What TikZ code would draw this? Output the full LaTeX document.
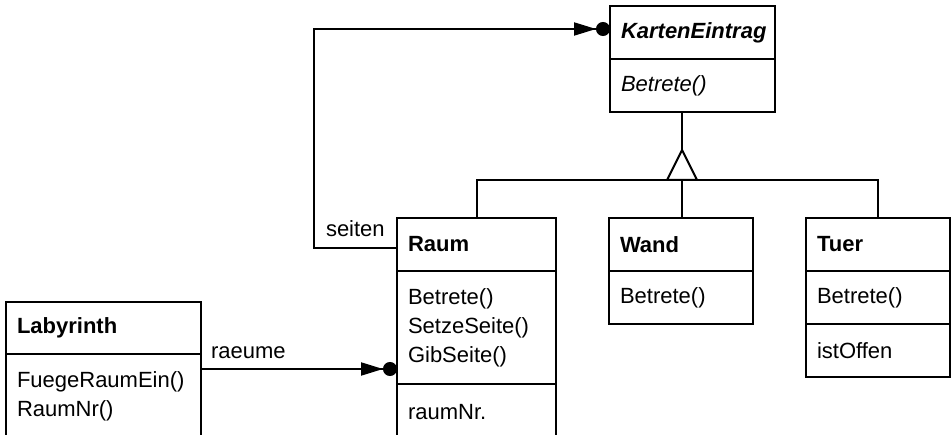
\documentclass[tikz,border=0pt]{standalone}
\usepackage{fontspec}
\setmainfont{Liberation Sans}
\usetikzlibrary{positioning,arrows.meta}
\newcommand\umlfont{\fontsize{22}{29}\selectfont\hyphenpenalty=10000 }

\begin{document}
\begin{tikzpicture}[x=1pt,y=-1pt]
		\tikzstyle{cls}=[draw, line width=2pt, inner xsep=11pt, inner ysep=0pt, outer sep=0pt, align=left, font=\umlfont, minimum height=53pt]
		\tikzstyle{connect}=[line width=2pt, -{Triangle[length=22pt,width=13pt]Circle[length=14pt]}]
		\tikzstyle{thickline}=[line width=2pt]
		\tikzstyle{role}=[font=\umlfont, inner sep=0pt, anchor=base west]
		\useasboundingbox (0,0) rectangle (952,435);
		
		% abstract class
		\node[cls, anchor=north west, text width=143pt] (karte) at (610,6) {\textbf{\textit{KartenEintrag}}};
		\node[cls, text width=143pt, below=0pt of karte] (karteops) {\textit{Betrete()}};
		
		% subclasses
		\node[cls, anchor=north west, text width=137pt] (raum) at (397,218) {\textbf{Raum}};
		\node[cls, text width=137pt, minimum height=113pt, below=0pt of raum] (raumops) {Betrete()\\SetzeSeite()\\GibSeite()};
		\node[cls, text width=137pt, minimum height=56pt, below=0pt of raumops] (raumattr) {raumNr.};
		
		\node[cls, anchor=north west, text width=122pt] (wand) at (609,218) {\textbf{Wand}};
		\node[cls, text width=122pt, below=0pt of wand] (wandops) {Betrete()};
		
		\node[cls, anchor=north west, text width=122pt] (tuer) at (806,218) {\textbf{Tuer}};
		\node[cls, text width=122pt, below=0pt of tuer] (tuerops) {Betrete()};
		\node[cls, text width=122pt, below=0pt of tuerops] (tuerattr) {istOffen};
		
		\node[cls, anchor=north west, text width=173pt, minimum height=52pt] (lab) at (6,302) {\textbf{Labyrinth}};
		\node[cls, text width=173pt, minimum height=84pt, below=0pt of lab] (labops) {FuegeRaumEin()\\RaumNr()};
		
		% inheritance
		\coordinate (apex) at (682,150);
		\coordinate (gen) at (682,180);
		\draw[thickline] (karteops.south -| apex) -- (apex);
		\draw[thickline] (apex) -- ++(-15,30) -- ++(30,0) -- cycle;
		\draw[thickline] (raum.north) |- (gen) -| (tuer.north);
		\draw[thickline] (gen) -- (gen |- wand.north);
		
		% associations
		\draw[connect] ([yshift=-3.5pt]raum.west) -- ++(-83,0) node[role, pos=1, xshift=11pt, yshift=11pt] (seitenlbl) {seiten} |- ([yshift=3.5pt]karte.west);
		
		\coordinate[below=15pt of labops.north east] (raeumestart);
		\draw[connect] (raeumestart) -- (raeumestart -| raumops.west) node[role, pos=0, xshift=9pt, yshift=11pt] (raeumelbl) {raeume};

	\end{tikzpicture}
\end{document}
